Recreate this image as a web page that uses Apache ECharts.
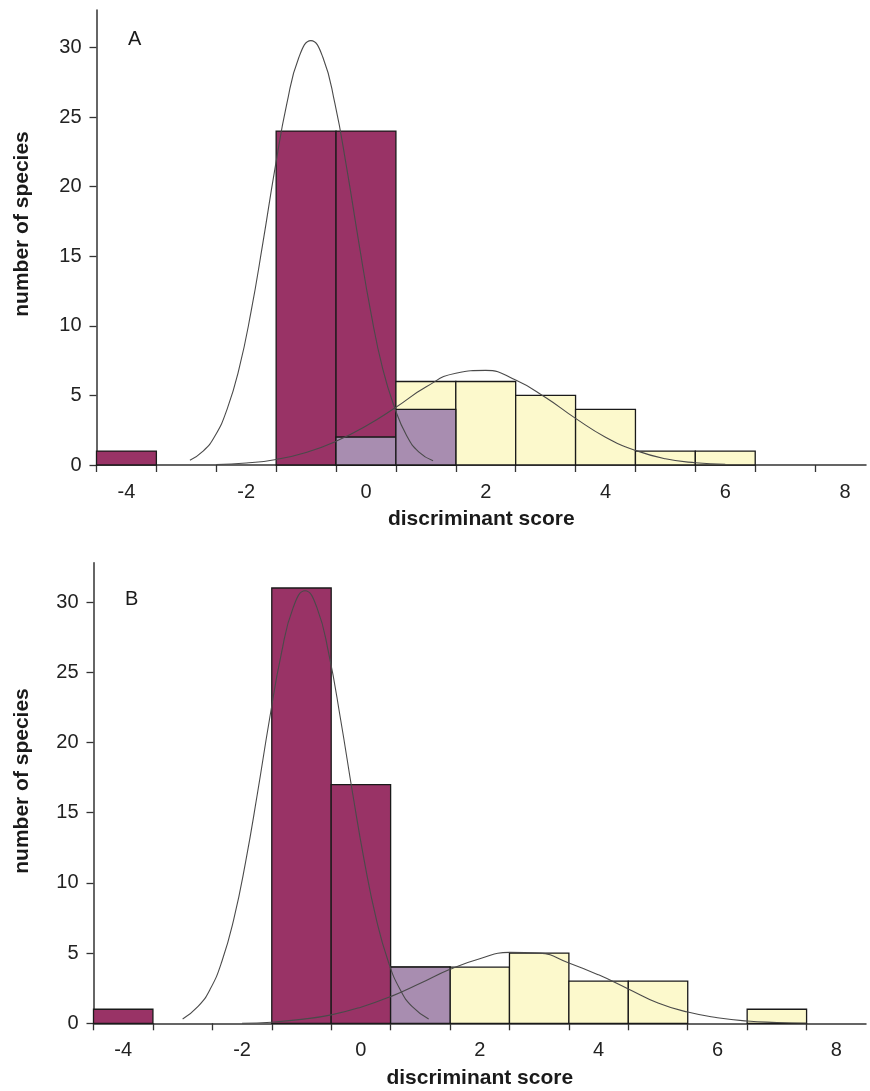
<!DOCTYPE html>
<html>
<head>
<meta charset="utf-8">
<script src="https://cdn.jsdelivr.net/npm/echarts@6/dist/echarts.min.js"></script>
<style>
  html, body { margin: 0; padding: 0; background: #fff; }
  #root { width: 870px; height: 1091px; }
</style>
</head>
<body>
<div id="root"></div>
<script>
// bin centres (discriminant score) and counts per bin
var bins = [-4, -3, -2, -1, 0, 1, 2, 3, 4, 5, 6, 7, 8];
var binEdges = [-4.5, -3.5, -2.5, -1.5, -0.5, 0.5, 1.5, 2.5, 3.5, 4.5, 5.5, 6.5, 7.5];
var xLabels = [-4, -2, 0, 2, 4, 6, 8];
var yTicks = [0, 5, 10, 15, 20, 25, 30];

// panel A
var groupOneA = [1, 0, 0, 24, 24, 4, 0, 0, 0, 0, 0, 0, 0];
var groupTwoA = [0, 0, 0, 0, 2, 6, 6, 5, 4, 1, 1, 0, 0];
// panel B
var groupOneB = [1, 0, 0, 31, 17, 4, 0, 0, 0, 0, 0, 0, 0];
var groupTwoB = [0, 0, 0, 0, 0, 4, 4, 5, 3, 3, 0, 1, 0];

// fitted curves as [score, count]
var curveOneA = [[-2.94, 0.35], [-2.72, 1.0], [-2.52, 2.1], [-2.32, 4.0], [-2.12, 6.9], [-1.92, 11.0],
  [-1.72, 16.0], [-1.52, 21.3], [-1.32, 26.0], [-1.12, 29.3], [-0.92, 30.5], [-0.72, 29.3],
  [-0.52, 26.0], [-0.32, 21.3], [-0.12, 16.0], [0.08, 11.0], [0.28, 6.9], [0.48, 4.1],
  [0.68, 2.1], [0.88, 0.95], [1.12, 0.3]];
var curveTwoA = [[-2.5, 0.04], [-2.0, 0.14], [-1.5, 0.4], [-1.0, 0.9], [-0.5, 1.7], [0, 2.8],
  [0.5, 4.15], [1.0, 5.6], [1.5, 6.6], [2.0, 6.8], [2.5, 6.1], [3.0, 4.85], [3.5, 3.35],
  [4.0, 2.0], [4.5, 1.05], [5.0, 0.45], [5.5, 0.16], [6.0, 0.05]];
var curveOneB = [[-3.0, 0.3], [-2.74, 1.2], [-2.54, 2.4], [-2.34, 4.4], [-2.14, 7.4], [-1.94, 11.5],
  [-1.74, 16.4], [-1.54, 21.6], [-1.34, 26.3], [-1.14, 29.6], [-0.94, 30.8], [-0.74, 29.6],
  [-0.54, 26.3], [-0.34, 21.6], [-0.14, 16.4], [0.06, 11.5], [0.26, 7.4], [0.46, 4.4],
  [0.66, 2.4], [0.86, 1.2], [1.14, 0.3]];
var curveTwoB = [[-2.0, 0.0], [-1.5, 0.08], [-1.0, 0.28], [-0.5, 0.6], [0, 1.15], [0.5, 1.9],
  [1.0, 2.85], [1.5, 3.85], [2.0, 4.6], [2.5, 5.05], [3.0, 5.0], [3.5, 4.3], [4.0, 3.45],
  [4.5, 2.45], [5.0, 1.45], [5.5, 0.8], [6.0, 0.4], [6.5, 0.16], [7.0, 0.06], [7.5, 0.0]];

var fontName = 'Liberation Sans';
var axisColor = '#333';

function binRect(color) {
  return function (params, api) {
    var x = api.value(0), y = api.value(1);
    var p0 = api.coord([x - 0.5, 0]);
    var p1 = api.coord([x + 0.5, y]);
    return {
      type: 'rect',
      shape: { x: p0[0], y: p1[1], width: p1[0] - p0[0], height: p0[1] - p1[1] },
      style: { fill: color, stroke: '#1a1a1a', lineWidth: 1.3 }
    };
  };
}

function barSeries(idx, values, color) {
  var data = [];
  for (var i = 0; i < bins.length; i++) {
    if (values[i] > 0) data.push([bins[i], values[i]]);
  }
  return { type: 'custom', xAxisIndex: idx, yAxisIndex: idx, renderItem: binRect(color), data: data, silent: true };
}

function overlap(a, b) {
  var out = [];
  for (var i = 0; i < a.length; i++) out.push(Math.min(a[i], b[i]));
  return out;
}

function curveSeries(idx, pts) {
  return {
    type: 'line', xAxisIndex: idx, yAxisIndex: idx, data: pts, smooth: 0.5,
    showSymbol: false, silent: true, z: 5,
    lineStyle: { color: '#4a4a4a', width: 1.1 }
  };
}

function xAxisFor(idx, max) {
  return {
    type: 'value', gridIndex: idx, min: -4.5, max: max,
    name: 'discriminant score', nameLocation: 'middle', nameGap: 44,
    nameTextStyle: { fontFamily: fontName, fontWeight: 'bold', fontSize: 21, color: '#1a1a1a' },
    axisLine: { onZero: false, lineStyle: { color: axisColor, width: 1.5 } },
    axisTick: { customValues: binEdges, length: 7, lineStyle: { color: axisColor, width: 1.3 } },
    axisLabel: { customValues: xLabels, margin: 17, fontFamily: fontName, fontSize: 20, color: '#222' },
    splitLine: { show: false }
  };
}

function yAxisFor(idx, max) {
  return {
    type: 'value', gridIndex: idx, min: 0, max: max,
    axisLine: { show: true, onZero: false, lineStyle: { color: axisColor, width: 1.5 } },
    axisTick: { show: true, customValues: yTicks, length: 7, lineStyle: { color: axisColor, width: 1.3 } },
    axisLabel: { customValues: yTicks, margin: 15, fontFamily: fontName, fontSize: 20, color: '#222' },
    splitLine: { show: false }
  };
}

var magenta = '#993366', cream = '#FCF9CC', lilac = '#A88DB0';

var chart = echarts.init(document.getElementById('root'), null, { renderer: 'canvas' });
chart.setOption({
  backgroundColor: '#fff',
  animation: false,
  grid: [
    { left: 96.5, top: 10, width: 769.5, height: 455 },
    { left: 93.5, top: 562.7, width: 772.5, height: 460.6 }
  ],
  xAxis: [xAxisFor(0, 8.35), xAxisFor(1, 8.5)],
  yAxis: [yAxisFor(0, 32.7), yAxisFor(1, 32.8)],
  graphic: [
    { type: 'text', left: 128, top: 29, style: { text: 'A', font: '20px "Liberation Sans"', fill: '#1a1a1a' } },
    { type: 'text', left: 125, top: 589, style: { text: 'B', font: '20px "Liberation Sans"', fill: '#1a1a1a' } },
    { type: 'text', x: 22, y: 224, rotation: Math.PI / 2,
      style: { text: 'number of species', font: 'bold 21px "Liberation Sans"', fill: '#1a1a1a', align: 'center', verticalAlign: 'middle' } },
    { type: 'text', x: 22, y: 781, rotation: Math.PI / 2,
      style: { text: 'number of species', font: 'bold 21px "Liberation Sans"', fill: '#1a1a1a', align: 'center', verticalAlign: 'middle' } }
  ],
  series: [
    barSeries(0, groupOneA, magenta),
    barSeries(0, groupTwoA, cream),
    barSeries(0, overlap(groupOneA, groupTwoA), lilac),
    curveSeries(0, curveOneA),
    curveSeries(0, curveTwoA),
    barSeries(1, groupOneB, magenta),
    barSeries(1, groupTwoB, cream),
    barSeries(1, overlap(groupOneB, groupTwoB), lilac),
    curveSeries(1, curveOneB),
    curveSeries(1, curveTwoB)
  ]
});
</script>
</body>
</html>
